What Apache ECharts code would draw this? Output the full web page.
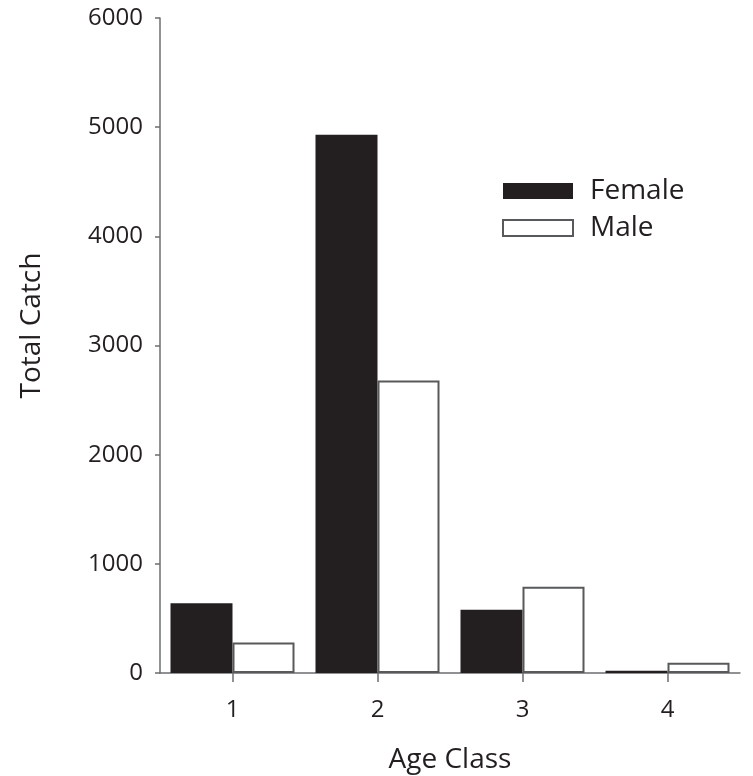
<!DOCTYPE html>
<html>
<head>
<meta charset="utf-8">
<script src="https://cdn.jsdelivr.net/npm/echarts@6/dist/echarts.min.js"></script>
<style>
html,body{margin:0;padding:0;background:#fff;}
#chart{width:753px;height:776px;}
</style>
</head>
<body>
<div id="chart"></div>
<script>
var categories = ['1', '2', '3', '4'];
var female = [640, 4930, 580, 20];
var male = [280, 2680, 790, 95];
var yTicks = [0, 1000, 2000, 3000, 4000, 5000, 6000];

var FONT = '"Open Sans", "Noto Sans", sans-serif';
var TXT = '#231f20';
var AX = '#6d6e71';
var FS_TICK = 24;
var FS_NAME = 28;

var chart = echarts.init(document.getElementById('chart'), null, {renderer: 'canvas'});
chart.setOption({
  backgroundColor: '#fff',
  animation: false,
  textStyle: {fontFamily: FONT, color: TXT},
  grid: {left: 160, right: 13, top: 18, bottom: 103, containLabel: false, outerBoundsMode: 'none'},
  legend: {
    orient: 'vertical', left: 502, top: 177, padding: 0,
    itemWidth: 70, itemHeight: 16, itemGap: 9,
    icon: 'rect',
    textStyle: {fontFamily: FONT, fontSize: FS_NAME, color: TXT, padding: [0, 0, 0, 12]},
    data: ['Female', 'Male']
  },
  xAxis: {
    type: 'category', data: categories,
    name: 'Age Class', nameLocation: 'middle', nameGap: 73,
    nameTextStyle: {fontFamily: FONT, fontSize: FS_NAME, color: TXT},
    axisLine: {show: true, lineStyle: {color: AX, width: 1.5}},
    axisTick: {show: true, alignWithLabel: true, length: 9, lineStyle: {color: AX, width: 1.5}},
    axisLabel: {fontFamily: FONT, fontSize: FS_TICK, color: TXT, margin: 25},
    splitLine: {show: false}
  },
  yAxis: {
    type: 'value', min: yTicks[0], max: yTicks[yTicks.length - 1], interval: 1000,
    name: 'Total Catch', nameLocation: 'middle', nameGap: 114, nameRotate: 90,
    nameTextStyle: {fontFamily: FONT, fontSize: FS_NAME, color: TXT, padding: [0, 0, 0, 40]},
    axisLine: {show: true, lineStyle: {color: AX, width: 1.5}},
    axisTick: {show: true, length: 5, lineStyle: {color: AX, width: 1.5}},
    axisLabel: {fontFamily: FONT, fontSize: FS_TICK, color: TXT, margin: 17,
      formatter: function (v) { return String(v); }},
    splitLine: {show: false}
  },
  series: [
    {
      name: 'Female', type: 'bar', data: female,
      barWidth: 62, barGap: '0%',
      itemStyle: {color: '#231f20', borderColor: '#231f20', borderWidth: 0}
    },
    {
      name: 'Male', type: 'bar', data: male,
      barWidth: 62,
      itemStyle: {color: '#ffffff', borderColor: '#58595b', borderWidth: 2}
    }
  ]
});
</script>
</body>
</html>
